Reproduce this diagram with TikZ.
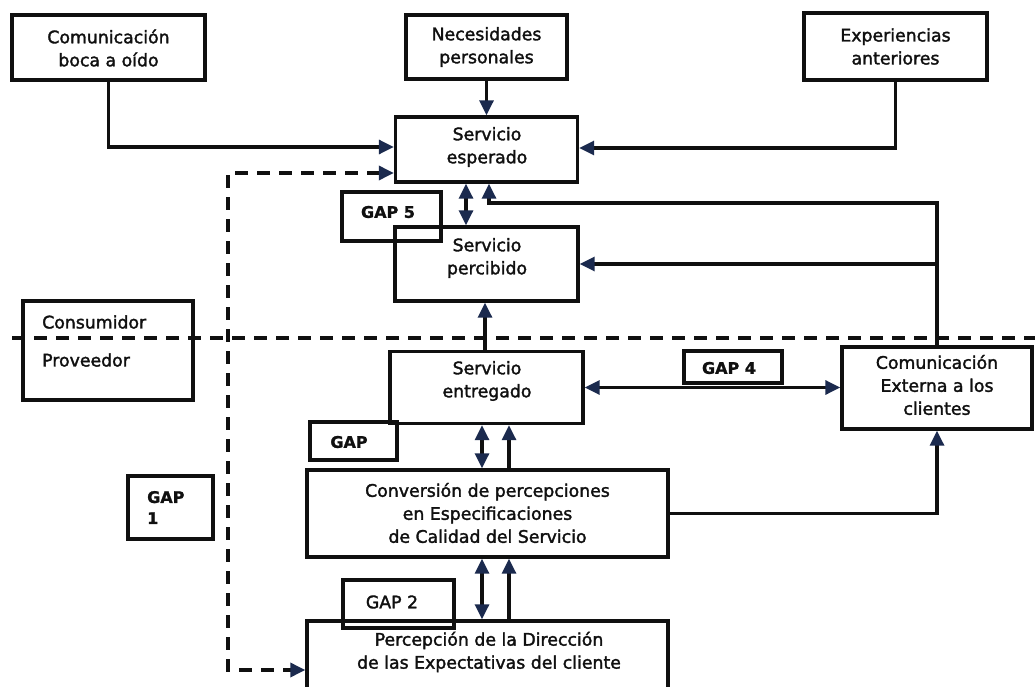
\documentclass[tikz,border=0pt]{standalone}
\usepackage{fontspec}
\setmainfont{DejaVu Sans}[FakeBold=1.2]
\newfontfamily\txtfont{DejaVu Sans}[FakeBold=1.8]
\usetikzlibrary{arrows.meta}
\definecolor{inkc}{HTML}{101010}
\definecolor{arrowc}{HTML}{1B2A4E}
\begin{document}
\begin{tikzpicture}[x=1pt,y=-1pt,
  >={Triangle[length=15pt,width=14pt,color=arrowc]},
  box/.style={draw=inkc,line width=3.4pt,rectangle,inner sep=0pt},
  txt/.style={text=inkc,align=center,inner sep=0pt,font=\txtfont\fontsize{17.3}{23}\selectfont},
  gaptxt/.style={text=inkc,inner sep=0pt,font=\bfseries\fontsize{16}{21}\selectfont},
  conn/.style={draw=inkc,line width=3.2pt},
  dashline/.style={draw=inkc,line width=3.4pt,dash pattern=on 13pt off 9pt}]
\useasboundingbox (0,0) rectangle (1035,687);
\clip (0,0) rectangle (1035,687);
\fill[white] (0,0) rectangle (1035,687);

% boxes
\node[box,minimum width=193pt,minimum height=65pt] (boca) at (108.5,47.5) {};
\node[box,minimum width=161pt,minimum height=64pt] (nec) at (486.5,47) {};
\node[box,minimum width=183pt,minimum height=67pt] (exp) at (895.5,46.5) {};
\node[box,minimum width=182pt,minimum height=65pt] (esp) at (486.5,149.5) {};
\node[box,minimum width=99pt,minimum height=49pt] (gap5) at (391.5,216.5) {};
\node[box,minimum width=183pt,minimum height=74pt] (perc) at (486.5,264) {};
\node[box,minimum width=170pt,minimum height=99pt] (cons) at (108,350.5) {};
\node[box,minimum width=193pt,minimum height=72pt] (entr) at (486.5,387.5) {};
\node[box,minimum width=98pt,minimum height=32pt] (gap4) at (733,367) {};
\node[box,minimum width=190pt,minimum height=82pt] (comext) at (937,388) {};
\node[box,minimum width=87pt,minimum height=38pt] (gap3) at (353.5,441) {};
\node[box,minimum width=361pt,minimum height=87pt] (conv) at (487.5,513.5) {};
\node[box,minimum width=85pt,minimum height=63pt] (gap1) at (170.5,507.5) {};
\node[box,minimum width=111pt,minimum height=48pt] (gap2) at (398.5,604) {};
\node[box,minimum width=361pt,minimum height=100pt] (percep) at (487.5,671) {};

% texts
\node[txt] (boca-t) at (108.5,48) {Comunicación\\boca a oído};
\node[txt] (nec-t) at (486.5,47) {Necesidades\\personales};
\node[txt] (exp-t) at (895.5,46.5) {Experiencias\\anteriores};
\node[txt] (esp-t) at (487,147) {Servicio\\esperado};
\node[txt] (perc-t) at (487,258) {Servicio\\percibido};
\node[txt] (entr-t) at (487,381) {Servicio\\entregado};
\node[txt] (comext-t) at (937,385) {Comunicación\\Externa a los\\clientes};
\node[txt] (conv-t) at (487.5,513) {Conversión de percepciones\\en Especificaciones\\de Calidad del Servicio};
\node[txt] (percep-t) at (489,652) {Percepción de la Dirección\\de las Expectativas del cliente};
\node[txt,anchor=west] (cons-t) at (42,322) {Consumidor};
\node[txt,anchor=west] (prov-t) at (42,360) {Proveedor};
\node[gaptxt] (gap5-t) at (388,212) {GAP 5};
\node[gaptxt] (gap4-t) at (729,368) {GAP 4};
\node[gaptxt] (gap3-t) at (349,442) {GAP};
\node[gaptxt,align=left,anchor=west] (gap1-t) at (147,507.5) {GAP\\1};
\node[txt] (gap2-t) at (392,602) {GAP 2};

% helper coordinates
\coordinate (c1) at (466,0);
\coordinate (c2) at (489,203);
\coordinate (c3) at (485,0);
\coordinate (c4) at (482,0);
\coordinate (c5) at (509,0);
\coordinate (dc) at (228,670);
\coordinate (d0) at (12,338);
\coordinate (d1) at (1035,338);

% divider
\draw[dashline] (d0) -- (d1);

% connectors
\draw[conn,->] (boca.south) |- ([yshift=2.5pt]esp.west);
\draw[conn,->] (nec.south) -- (nec.south |- esp.north);
\draw[conn,->] (exp.south) |- ([yshift=1.5pt]esp.east);
\draw[dashline,<->] ([yshift=-23.5pt]esp.west) -| (dc) -- (dc -| percep.west);
\draw[conn,<->] (c1 |- esp.south) -- (c1 |- perc.north);
\draw[conn,->] (comext.north) -- (comext.north |- c2) -- (c2) -- (c2 |- esp.south);
\draw[conn,->] (comext.north |- perc.east) -- (perc.east);
\draw[conn,->] (c3 |- entr.north) -- (c3 |- perc.south);
\draw[conn,<->] (entr.east) -- (entr.east -| comext.west);
\draw[conn,<->] (c4 |- entr.south) -- (c4 |- conv.north);
\draw[conn,->] (c5 |- conv.north) -- (c5 |- entr.south);
\draw[conn,->] (conv.east) -| (comext.south);
\draw[conn,<->] (c4 |- conv.south) -- (c4 |- percep.north);
\draw[conn,->] (c5 |- percep.north) -- (c5 |- conv.south);
\end{tikzpicture}
\end{document}
